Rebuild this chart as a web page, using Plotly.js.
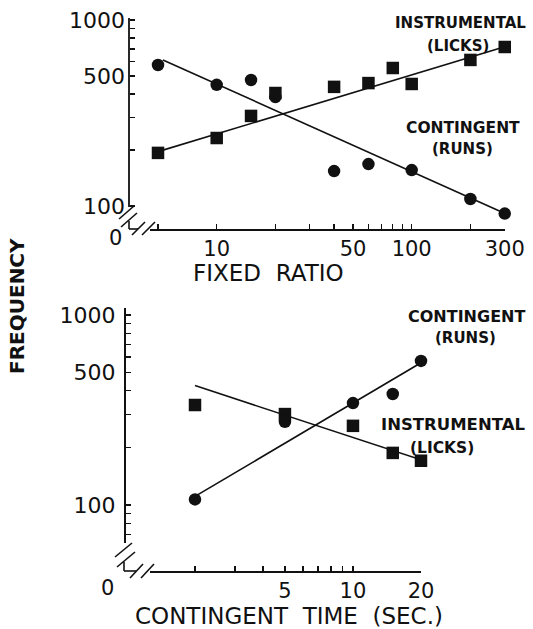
<!DOCTYPE html>
<html><head><meta charset="utf-8">
<script src="https://cdn.plot.ly/plotly-3.0.1.min.js"></script>
<style>html,body{margin:0;padding:0;background:#fff}#chart{width:533px;height:629px}</style>
</head><body><div id="chart"></div>
<script>
// ---- Data: top panel (Fixed Ratio) ----
const frContX = [5, 10, 15, 20, 40, 60, 100, 200, 300];
const frContY = [573, 448, 476, 385, 154, 168, 156, 109, 91];
const frInstX = [5, 10, 15, 20, 40, 60, 80, 100, 200, 300];
const frInstY = [193, 232, 305, 405, 437, 458, 552, 453, 610, 716];
const frContFitX = [5.3, 295];
const frContFitY = [610, 92];
const frInstFitX = [5, 300];
const frInstFitY = [196, 718];

// ---- Data: bottom panel (Contingent Time) ----
const ctX = [2, 5, 10, 15, 20];
const ctContY = [107, 274, 344, 384, 573];
const ctInstY = [336, 301, 261, 188, 171];
const ctFitX = [2, 20];
const ctContFitY = [111, 561];
const ctInstFitY = [425, 173];

// ---- Tick labels ----
const frTickVals = [5, 10, 20, 30, 40, 50, 60, 70, 80, 90, 100, 200, 300];
const frTickText = ['', '10', '', '', '', '50', '', '', '', '', '100', '', '300'];
const ctTickVals = [2, 3, 4, 5, 6, 7, 8, 9, 10, 20];
const ctTickText = ['', '', '', '5', '', '', '', '', '10', '20'];
const yTopVals = [100, 200, 300, 400, 500, 600, 700, 800, 900, 1000];
const yTopText = ['100', '', '', '', '500', '', '', '', '', '1000'];
const yBotVals = [70, 80, 90, 100, 200, 300, 400, 500, 600, 700, 800, 900, 1000];
const yBotText = ['', '', '', '100', '', '', '', '500', '', '', '', '', '1000'];

const W = 533, H = 629;
const fx = p => p / W;
const fy = p => 1 - p / H;
const ink = '#111';
const tickFont = {family: 'DejaVu Sans', size: 22, color: ink};

const mk = (sym) => ({symbol: sym, size: 12.5, color: ink, line: {width: 0}});
const traces = [
  {x: frContX, y: frContY, mode: 'markers', marker: mk('circle'), cliponaxis: false, xaxis: 'x', yaxis: 'y'},
  {x: frInstX, y: frInstY, mode: 'markers', marker: mk('square'), cliponaxis: false, xaxis: 'x', yaxis: 'y'},
  {x: frContFitX, y: frContFitY, mode: 'lines', line: {color: ink, width: 1.6}, xaxis: 'x', yaxis: 'y'},
  {x: frInstFitX, y: frInstFitY, mode: 'lines', line: {color: ink, width: 1.6}, xaxis: 'x', yaxis: 'y'},
  {x: ctX, y: ctContY, mode: 'markers', marker: mk('circle'), cliponaxis: false, xaxis: 'x2', yaxis: 'y2'},
  {x: ctX, y: ctInstY, mode: 'markers', marker: mk('square'), cliponaxis: false, xaxis: 'x2', yaxis: 'y2'},
  {x: ctFitX, y: ctContFitY, mode: 'lines', line: {color: ink, width: 1.6}, xaxis: 'x2', yaxis: 'y2'},
  {x: ctFitX, y: ctInstFitY, mode: 'lines', line: {color: ink, width: 1.6}, xaxis: 'x2', yaxis: 'y2'}
];

const axBase = {
  type: 'log', showgrid: false, zeroline: false, showline: true, linecolor: ink, linewidth: 1.8,
  ticks: 'inside', ticklen: 5, tickwidth: 1.4, tickcolor: ink, tickmode: 'array',
  tickfont: tickFont, automargin: false, fixedrange: true
};

const layout = {
  width: W, height: H, margin: {l: 0, r: 0, t: 0, b: 0},
  paper_bgcolor: '#fff', plot_bgcolor: 'rgba(0,0,0,0)', showlegend: false,
  xaxis: Object.assign({}, axBase, {
    domain: [fx(150), fx(505)], anchor: 'free', position: fy(229),
    range: [1 - (216.7 - 150) / 195, 1 + (505 - 216.7) / 195],
    tickvals: frTickVals, ticktext: frTickText, ticklabelstandoff: 0,
    tickfont: {family: 'DejaVu Sans', size: 21, color: ink}
  }),
  yaxis: Object.assign({}, axBase, {
    domain: [fy(222), fy(18)], anchor: 'free', position: fx(129), showline: false,
    range: [3 - (222 - 20) / 186, 3 + (20 - 18) / 186],
    tickvals: yTopVals, ticktext: yTopText, ticklabelstandoff: 4
  }),
  xaxis2: Object.assign({}, axBase, {
    domain: [fx(150), fx(421)], anchor: 'free', position: fy(571),
    range: [Math.log10(2) - 45 / 226, Math.log10(2) + 1],
    tickvals: ctTickVals, ticktext: ctTickText, ticklabelstandoff: 0,
    tickfont: {family: 'DejaVu Sans', size: 21, color: ink}
  }),
  yaxis2: Object.assign({}, axBase, {
    domain: [fy(543), fy(308)], anchor: 'free', position: fx(124),
    range: [3 - (543 - 315) / 190, 3 + (315 - 308) / 190],
    tickvals: yBotVals, ticktext: yBotText, ticklabelstandoff: 4
  }),
  annotations: [],
  shapes: []
};

const ann = (text, x, y, size, bold, extra) => Object.assign({
  text: bold ? '<b>' + text + '</b>' : text, x: fx(x), y: fy(y), xref: 'paper', yref: 'paper',
  showarrow: false, xanchor: 'center', yanchor: 'middle',
  font: {family: 'DejaVu Sans', size: size, color: ink}
}, extra || {});

layout.annotations.push(
  ann('INSTRUMENTAL', 460, 23, 15, true),
  ann('(LICKS)', 458, 46, 15, true),
  ann('CONTINGENT', 463, 128, 15.5, true),
  ann('(RUNS)', 462, 149, 15, true),
  ann('CONTINGENT', 466, 317, 16, true),
  ann('(RUNS)', 465, 338, 15, true),
  ann('INSTRUMENTAL', 453, 424, 16.5, true),
  ann('(LICKS)', 442, 448, 15.5, true),
  ann('FIXED  RATIO', 268, 273, 23, false),
  ann('CONTINGENT  TIME  (SEC.)', 289, 616, 23, false),
  ann('FREQUENCY', 17, 306, 20, true, {textangle: -90}),
  ann('0', 115, 238, 21, false),
  ann('0', 107, 588, 21, false)
);

const seg = (x0, y0, x1, y1, w) => ({type: 'line', xref: 'paper', yref: 'paper',
  x0: fx(x0), y0: fy(y0), x1: fx(x1), y1: fy(y1), line: {color: ink, width: w || 1.6}});
layout.shapes.push(
  // top panel y-axis line and axis breaks
  seg(129, 18, 129, 207, 1.8),
  seg(119, 219, 134, 206), seg(121, 227, 137, 213),
  seg(132, 235, 145, 222), seg(142, 235, 155, 222),
  seg(129, 221, 129, 229), seg(129, 229, 138, 229),
  // bottom panel axis breaks
  seg(115, 557, 132, 543), seg(117, 567, 135, 552),
  seg(130, 578, 143, 564), seg(141, 578, 154, 564),
  seg(124, 562, 124, 571), seg(124, 571, 136, 571)
);

Plotly.newPlot('chart', traces, layout, {displayModeBar: false, staticPlot: true});
</script>
</body></html>
